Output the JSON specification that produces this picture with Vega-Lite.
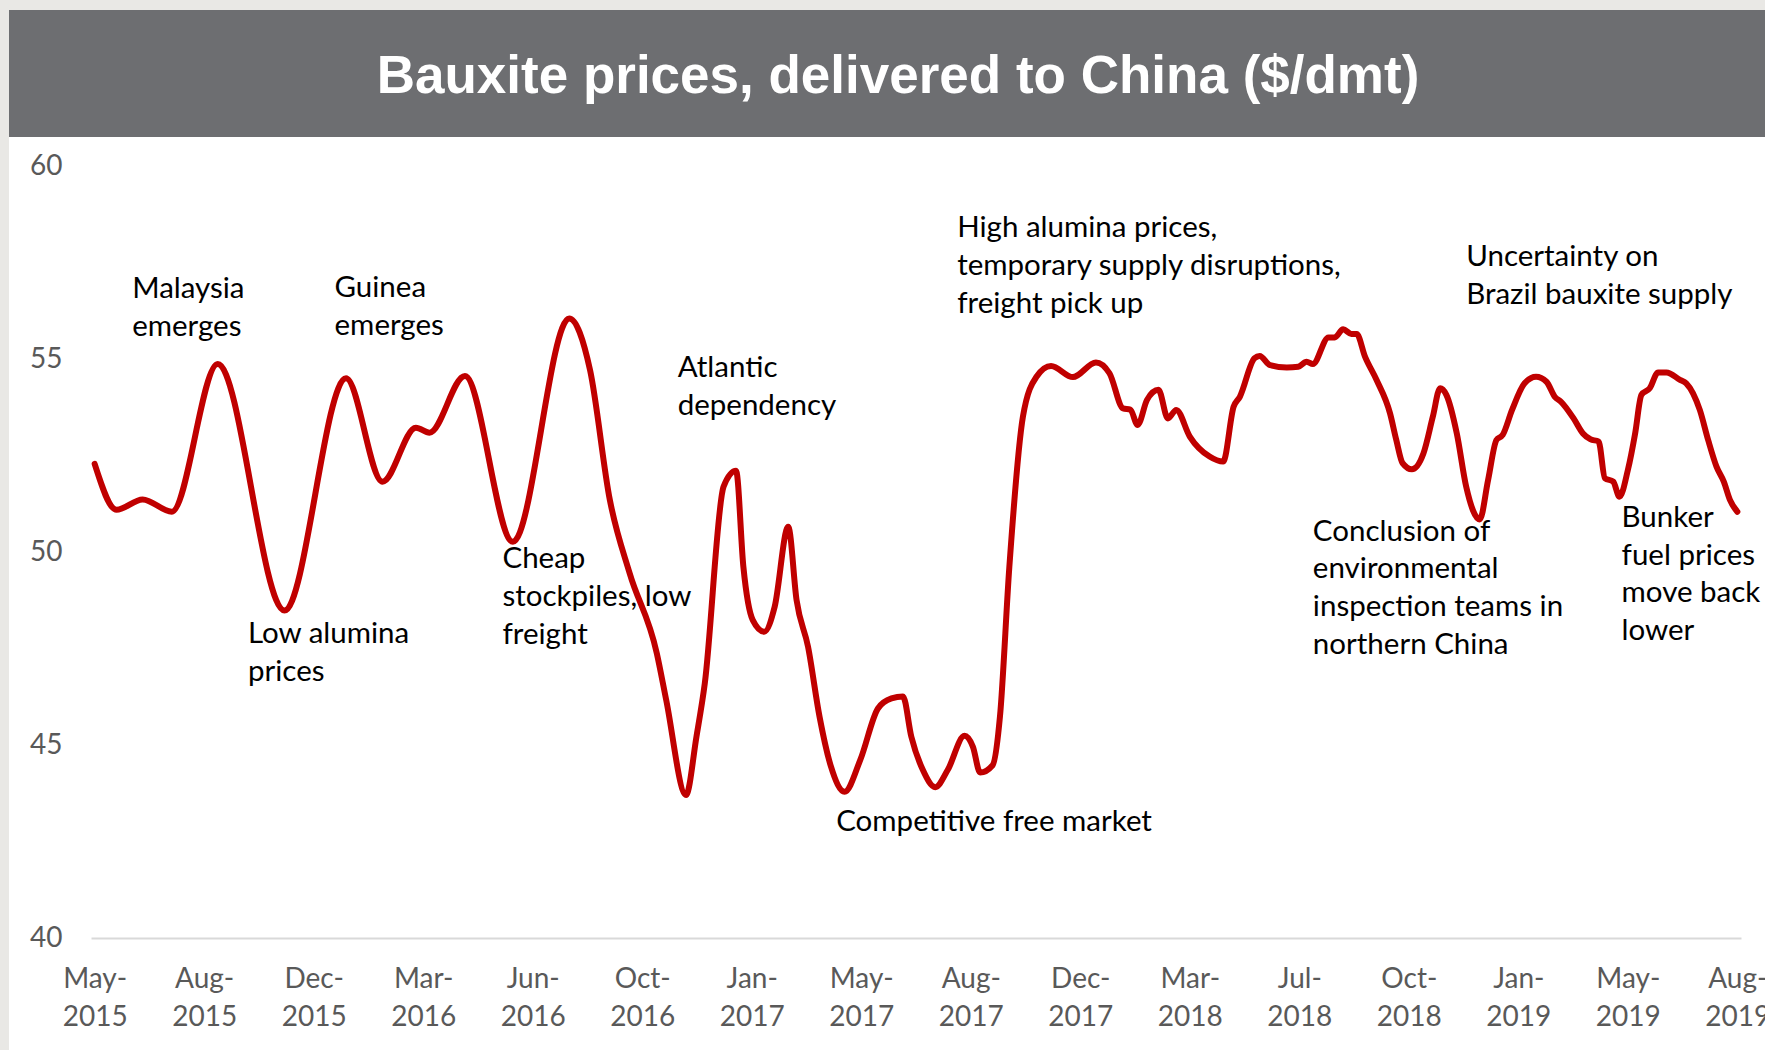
{
  "$schema": "https://vega.github.io/schema/vega-lite/v6.json",
  "background": "#e9e8e5",
  "padding": {"left": 9, "top": 10, "right": 0, "bottom": 0},
  "spacing": 0,
  "config": {"view": {"stroke": null}, "font": "Lato"},
  "vconcat": [
    {
      "width": 1756,
      "height": 127,
      "view": {"fill": "#6d6e71", "stroke": null},
      "data": {"values": [{"title": "Bauxite prices, delivered to China ($/dmt)"}]},
      "mark": {"type": "text", "font": "Liberation Sans", "fontWeight": "bold", "fontSize": 53, "color": "#ffffff", "align": "center", "baseline": "alphabetic", "dx": 11, "dy": 19.5},
      "encoding": {"text": {"field": "title", "type": "nominal"}}
    },
    {
      "width": 1756,
      "height": 913,
      "view": {"fill": "#ffffff", "stroke": null},
      "layer": [
        {
          "data": {"values": [
            {"date": "2015-05-05", "price": 52.29},
            {"date": "2015-05-26", "price": 51.10},
            {"date": "2015-06-20", "price": 51.37},
            {"date": "2015-07-18", "price": 51.05},
            {"date": "2015-08-31", "price": 54.88},
            {"date": "2015-11-03", "price": 48.49},
            {"date": "2016-01-01", "price": 54.51},
            {"date": "2016-02-05", "price": 51.83},
            {"date": "2016-03-08", "price": 53.23},
            {"date": "2016-03-21", "price": 53.10},
            {"date": "2016-04-24", "price": 54.57},
            {"date": "2016-06-09", "price": 50.27},
            {"date": "2016-08-02", "price": 56.06},
            {"date": "2016-08-22", "price": 54.72},
            {"date": "2016-09-10", "price": 51.35},
            {"date": "2016-09-29", "price": 49.45},
            {"date": "2016-10-25", "price": 47.38},
            {"date": "2016-11-03", "price": 46.17},
            {"date": "2016-11-22", "price": 43.71},
            {"date": "2016-12-02", "price": 45.22},
            {"date": "2016-12-10", "price": 46.60},
            {"date": "2016-12-28", "price": 51.70},
            {"date": "2017-01-09", "price": 52.11},
            {"date": "2017-01-16", "price": 49.62},
            {"date": "2017-01-25", "price": 48.24},
            {"date": "2017-02-05", "price": 47.94},
            {"date": "2017-02-15", "price": 48.59},
            {"date": "2017-02-28", "price": 50.66},
            {"date": "2017-03-08", "price": 48.76},
            {"date": "2017-03-19", "price": 47.55},
            {"date": "2017-03-30", "price": 45.74},
            {"date": "2017-04-10", "price": 44.44},
            {"date": "2017-04-23", "price": 43.79},
            {"date": "2017-05-08", "price": 44.61},
            {"date": "2017-05-25", "price": 45.95},
            {"date": "2017-06-07", "price": 46.21},
            {"date": "2017-06-18", "price": 46.26},
            {"date": "2017-06-26", "price": 45.22},
            {"date": "2017-07-07", "price": 44.36},
            {"date": "2017-07-19", "price": 43.91},
            {"date": "2017-07-31", "price": 44.36},
            {"date": "2017-08-16", "price": 45.24},
            {"date": "2017-08-24", "price": 44.96},
            {"date": "2017-08-31", "price": 44.29},
            {"date": "2017-09-12", "price": 44.48},
            {"date": "2017-09-19", "price": 45.74},
            {"date": "2017-09-28", "price": 49.62},
            {"date": "2017-10-11", "price": 53.51},
            {"date": "2017-10-24", "price": 54.55},
            {"date": "2017-11-07", "price": 54.83},
            {"date": "2017-11-28", "price": 54.54},
            {"date": "2017-12-20", "price": 54.92},
            {"date": "2018-01-02", "price": 54.64},
            {"date": "2018-01-15", "price": 53.73},
            {"date": "2018-01-22", "price": 53.70},
            {"date": "2018-01-29", "price": 53.30},
            {"date": "2018-02-07", "price": 53.95},
            {"date": "2018-02-18", "price": 54.21},
            {"date": "2018-02-27", "price": 53.47},
            {"date": "2018-03-07", "price": 53.69},
            {"date": "2018-03-20", "price": 53.00},
            {"date": "2018-04-08", "price": 52.48},
            {"date": "2018-04-21", "price": 52.35},
            {"date": "2018-05-01", "price": 53.77},
            {"date": "2018-05-07", "price": 54.03},
            {"date": "2018-05-21", "price": 55.03},
            {"date": "2018-05-26", "price": 55.09},
            {"date": "2018-06-05", "price": 54.85},
            {"date": "2018-06-21", "price": 54.79},
            {"date": "2018-07-02", "price": 54.81},
            {"date": "2018-07-10", "price": 54.94},
            {"date": "2018-07-16", "price": 54.88},
            {"date": "2018-07-31", "price": 55.57},
            {"date": "2018-08-06", "price": 55.57},
            {"date": "2018-08-14", "price": 55.78},
            {"date": "2018-08-22", "price": 55.66},
            {"date": "2018-08-27", "price": 55.66},
            {"date": "2018-09-04", "price": 55.07},
            {"date": "2018-09-15", "price": 54.47},
            {"date": "2018-09-28", "price": 53.60},
            {"date": "2018-10-04", "price": 52.91},
            {"date": "2018-10-10", "price": 52.31},
            {"date": "2018-10-19", "price": 52.15},
            {"date": "2018-10-30", "price": 52.56},
            {"date": "2018-11-08", "price": 53.51},
            {"date": "2018-11-15", "price": 54.25},
            {"date": "2018-11-21", "price": 54.08},
            {"date": "2018-12-01", "price": 53.08},
            {"date": "2018-12-10", "price": 51.70},
            {"date": "2018-12-23", "price": 50.85},
            {"date": "2018-12-31", "price": 51.87},
            {"date": "2019-01-08", "price": 52.91},
            {"date": "2019-01-14", "price": 53.04},
            {"date": "2019-01-23", "price": 53.69},
            {"date": "2019-02-04", "price": 54.38},
            {"date": "2019-02-15", "price": 54.55},
            {"date": "2019-02-25", "price": 54.42},
            {"date": "2019-03-05", "price": 54.03},
            {"date": "2019-03-11", "price": 53.90},
            {"date": "2019-03-23", "price": 53.47},
            {"date": "2019-04-01", "price": 53.08},
            {"date": "2019-04-08", "price": 52.93},
            {"date": "2019-04-16", "price": 52.87},
            {"date": "2019-04-22", "price": 51.92},
            {"date": "2019-04-30", "price": 51.83},
            {"date": "2019-05-06", "price": 51.44},
            {"date": "2019-05-14", "price": 52.13},
            {"date": "2019-05-21", "price": 53.08},
            {"date": "2019-05-27", "price": 54.08},
            {"date": "2019-06-04", "price": 54.25},
            {"date": "2019-06-12", "price": 54.66},
            {"date": "2019-06-20", "price": 54.66},
            {"date": "2019-07-03", "price": 54.47},
            {"date": "2019-07-09", "price": 54.38},
            {"date": "2019-07-22", "price": 53.69},
            {"date": "2019-07-30", "price": 52.91},
            {"date": "2019-08-07", "price": 52.22},
            {"date": "2019-08-14", "price": 51.83},
            {"date": "2019-08-20", "price": 51.35},
            {"date": "2019-08-27", "price": 51.05}
          ]},
          "mark": {"type": "line", "color": "#c00000", "strokeWidth": 6, "interpolate": "monotone", "strokeCap": "round", "strokeJoin": "round"},
          "encoding": {
            "x": {
              "field": "date",
              "type": "temporal",
              "scale": {
                "type": "utc",
                "nice": false,
                "domain": [
                  {"year": 2015, "month": 5, "date": 1, "hours": 12, "utc": true},
                  {"year": 2019, "month": 8, "date": 30, "hours": 12, "utc": true}
                ],
                "range": [82, 1732]
              },
              "axis": {
                "orient": "bottom",
                "offset": -112,
                "title": null,
                "grid": false,
                "ticks": false,
                "tickSize": 0,
                "domain": true,
                "domainColor": "#d9d9d9",
                "domainWidth": 2,
                "labelFont": "Lato",
                "labelFontSize": 28,
                "labelColor": "#595959",
                "labelPadding": 27,
                "labelBaseline": "top",
                "labelLineHeight": 38.5,
                "labelFlush": false,
                "labelOverlap": false,
                "values": [
                  {"year": 2015, "month": 5, "date": 5, "utc": true},
                  {"year": 2015, "month": 8, "date": 18, "utc": true},
                  {"year": 2015, "month": 12, "date": 1, "utc": true},
                  {"year": 2016, "month": 3, "date": 15, "utc": true},
                  {"year": 2016, "month": 6, "date": 28, "utc": true},
                  {"year": 2016, "month": 10, "date": 11, "utc": true},
                  {"year": 2017, "month": 1, "date": 24, "utc": true},
                  {"year": 2017, "month": 5, "date": 9, "utc": true},
                  {"year": 2017, "month": 8, "date": 22, "utc": true},
                  {"year": 2017, "month": 12, "date": 5, "utc": true},
                  {"year": 2018, "month": 3, "date": 20, "utc": true},
                  {"year": 2018, "month": 7, "date": 3, "utc": true},
                  {"year": 2018, "month": 10, "date": 16, "utc": true},
                  {"year": 2019, "month": 1, "date": 29, "utc": true},
                  {"year": 2019, "month": 5, "date": 14, "utc": true},
                  {"year": 2019, "month": 8, "date": 27, "utc": true}
                ],
                "labelExpr": "[utcFormat(datum.value, '%b-'), utcFormat(datum.value, '%Y')]"
              }
            },
            "y": {
              "field": "price",
              "type": "quantitative",
              "scale": {"domain": [40, 60], "range": [801, 29.5], "nice": false, "zero": false},
              "axis": {
                "orient": "left",
                "offset": -53,
                "title": null,
                "values": [40, 45, 50, 55, 60],
                "grid": false,
                "ticks": false,
                "tickSize": 0,
                "domain": false,
                "labelPadding": 0,
                "labelFont": "Lato",
                "labelFontSize": 28,
                "labelColor": "#595959"
              }
            }
          }
        },
        {
          "data": {"values": [
            {"date": "2015-06-10", "level": 56.58, "label": "Malaysia\nemerges"},
            {"date": "2015-12-21", "level": 56.62, "label": "Guinea\nemerges"},
            {"date": "2015-09-29", "level": 47.65, "label": "Low alumina\nprices"},
            {"date": "2016-05-30", "level": 49.58, "label": "Cheap\nstockpiles, low\nfreight"},
            {"date": "2016-11-14", "level": 54.54, "label": "Atlantic\ndependency"},
            {"date": "2017-04-15", "level": 42.77, "label": "Competitive free market"},
            {"date": "2017-08-09", "level": 58.17, "label": "High alumina prices,\ntemporary supply disruptions,\nfreight pick up"},
            {"date": "2018-12-10", "level": 57.42, "label": "Uncertainty on\nBrazil bauxite supply"},
            {"date": "2018-07-16", "level": 50.30, "label": "Conclusion of\nenvironmental\ninspection teams in\nnorthern China"},
            {"date": "2019-05-08", "level": 50.66, "label": "Bunker\nfuel prices\nmove back\nlower"}
          ]},
          "mark": {"type": "text", "align": "left", "baseline": "alphabetic", "font": "Lato", "fontSize": 29.5, "color": "#000000", "lineBreak": "\n", "lineHeight": 37.8},
          "encoding": {
            "x": {"field": "date", "type": "temporal"},
            "y": {"field": "level", "type": "quantitative"},
            "text": {"field": "label", "type": "nominal"}
          }
        }
      ]
    }
  ]
}
